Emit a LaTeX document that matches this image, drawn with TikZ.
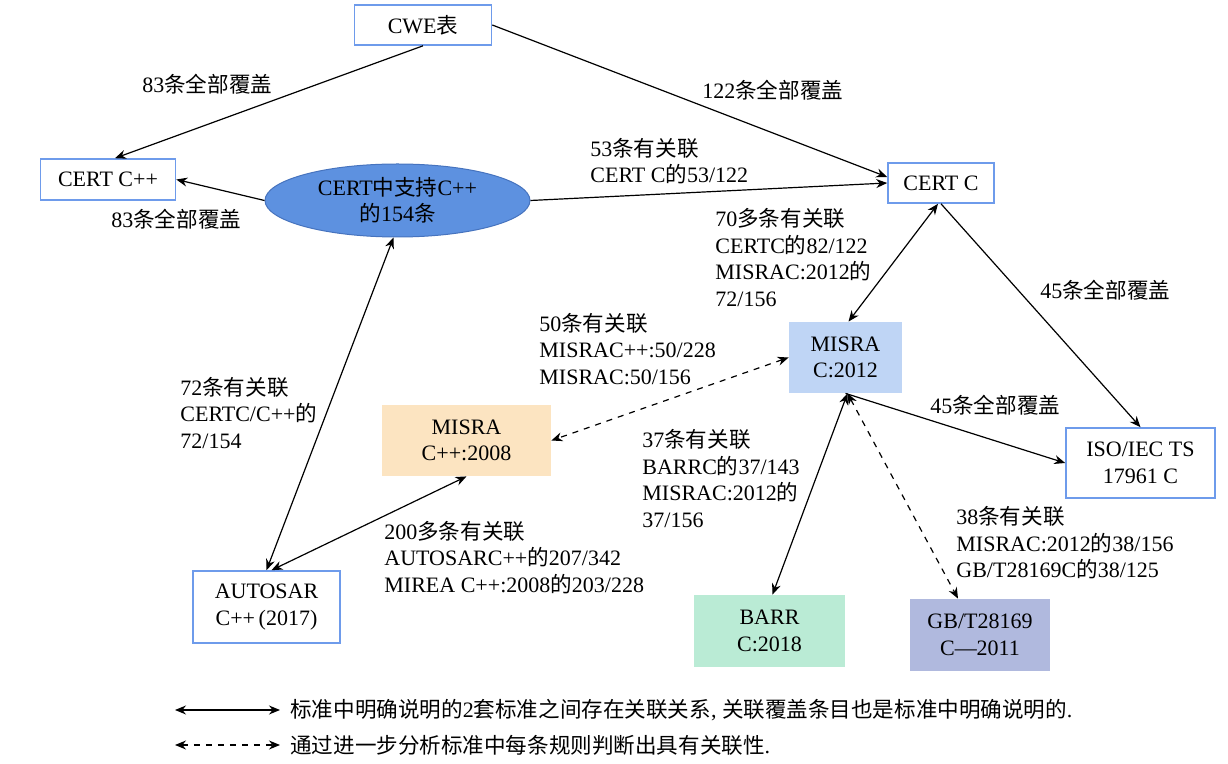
\documentclass[tikz,border=0pt]{standalone}
\usepackage{fontspec}
\setmainfont{Liberation Serif}
\newfontfamily\cjkfont{Noto Sans CJK SC}[Scale=0.98]
\newcommand\zh[1]{{\cjkfont #1}}
\usetikzlibrary{arrows.meta,shapes.geometric}
\definecolor{boxblue}{RGB}{110,155,235}
\definecolor{ellblue}{RGB}{93,145,224}
\definecolor{ellborder}{RGB}{70,115,190}
\definecolor{misrac}{RGB}{191,213,245}
\definecolor{misracpp}{RGB}{252,228,193}
\definecolor{barrc}{RGB}{186,235,213}
\definecolor{gbc}{RGB}{176,185,222}
\begin{document}
\begin{tikzpicture}[x=0.5pt,y=-0.5pt,
  every node/.style={font=\fontsize{11pt}{13.25pt}\selectfont},
  box/.style={draw=boxblue, line width=0.8pt, fill=white, align=center, inner sep=0pt},
  fbox/.style={align=center, inner sep=0pt},
  lbl/.style={anchor=west, align=left, inner sep=0pt},
  arr/.style={-{Stealth[length=5.5pt,width=4.5pt]}, line width=0.6pt},
  darr/.style={{Stealth[length=5.5pt,width=4.5pt]}-{Stealth[length=5.5pt,width=4.5pt]}, line width=0.6pt},
  dsharr/.style={darr, dashed}]
\path[use as bounding box] (0,0) rectangle (1228,764);

% nodes
\node[box, minimum width=68.5pt, minimum height=20pt] (cwe) at (423,25) {CWE\zh{表}};
\node[box, minimum width=67.5pt, minimum height=20.5pt] (certcpp) at (108,179.5) {CERT C++};
\node[ellipse, draw=ellborder, line width=0.5pt, fill=ellblue, minimum width=132.5pt, minimum height=36.5pt, inner sep=0pt, align=center] (ell) at (397.5,200.5) {CERT\zh{中支持}C++\\\zh{的}154\zh{条}};
\node[box, minimum width=53pt, minimum height=20pt] (certc) at (941,183) {CERT C};
\node[fbox, fill=misrac, minimum width=56.5pt, minimum height=35.5pt] (misra) at (845.5,357.5) {MISRA\\C:2012};
\node[box, minimum width=74.5pt, minimum height=35pt] (iso) at (1140.5,463) {ISO/IEC TS\\17961 C};
\node[fbox, fill=barrc, minimum width=75.5pt, minimum height=36pt] (barr) at (769.5,631) {BARR\\C:2018};
\node[fbox, fill=gbc, minimum width=70pt, minimum height=36pt] (gb) at (980,635) {GB/T28169\\C—2011};
\node[fbox, fill=misracpp, minimum width=84.5pt, minimum height=35.5pt] (misracpp) at (466.5,440.5) {MISRA\\C++:2008};
\node[box, minimum width=73.5pt, minimum height=36pt] (autosar) at (266.5,607) {AUTOSAR\\C++\,(2017)};

% connectors
\draw[arr] (cwe.south) -- ([xshift=3.5pt]certcpp.north);
\draw[arr] (cwe.east) -- ([yshift=3pt]certc.west);
\draw[arr] (ell.west) -- (certcpp.east);
\draw[arr] (ell.east) -- (certc.west);
\draw[darr] ([xshift=-1.5pt]certc.south) -- ([xshift=1.5pt]misra.north);
\draw[arr] (certc.south) -- (iso.north);
\draw[arr] (misra.south) -- (iso.west);
\draw[darr] ([xshift=1pt]misra.south) -- ([xshift=1.5pt]barr.north);
\draw[dsharr] ([xshift=1pt]misra.south) -- ([xshift=-11pt]gb.north);
\draw[dsharr] (misra.west) -- (misracpp.east);
\draw[darr] ([xshift=-2pt]ell.south) -- (autosar.north);
\draw[darr] (misracpp.south) -- ([xshift=2.5pt]autosar.north);

% labels
\node[lbl] (l1) at (142,84) {83\zh{条全部覆盖}};
\node[lbl] (l2) at (702,90) {122\zh{条全部覆盖}};
\node[lbl] (l3) at (590,161) {53\zh{条有关联}\\CERT C\zh{的}53/122};
\node[lbl] (l4) at (111,219) {83\zh{条全部覆盖}};
\node[lbl] (l5) at (715,257.5) {70\zh{多条有关联}\\CERTC\zh{的}82/122\\MISRAC:2012\zh{的}\\72/156};
\node[lbl] (l6) at (1040,290) {45\zh{条全部覆盖}};
\node[lbl] (l7) at (539,349) {50\zh{条有关联}\\MISRAC++:50/228\\MISRAC:50/156};
\node[lbl] (l8) at (180,413) {72\zh{条有关联}\\CERTC/C++\zh{的}\\72/154};
\node[lbl] (l9) at (642,478.5) {37\zh{条有关联}\\BARRC\zh{的}37/143\\MISRAC:2012\zh{的}\\37/156};
\node[lbl] (l10) at (930,405) {45\zh{条全部覆盖}};
\node[lbl] (l11) at (384,557.5) {200\zh{多条有关联}\\AUTOSARC++\zh{的}207/342\\MIREA C++:2008\zh{的}203/228};
\node[lbl] (l12) at (956,543) {38\zh{条有关联}\\MISRAC:2012\zh{的}38/156\\GB/T28169C\zh{的}38/125};

% legend
\coordinate (la1) at (175,710);
\coordinate (lb1) at (280,710);
\coordinate (la2) at (175,745);
\coordinate (lb2) at (280,745);
\draw[darr] (la1) -- (lb1);
\draw[dsharr] (la2) -- (lb2);
\node[lbl] (lt1) at (290,710) {\zh{标准中明确说明的}2\zh{套标准之间存在关联关系}, \zh{关联覆盖条目也是标准中明确说明的}.};
\node[lbl] (lt2) at (290,745) {\zh{通过进一步分析标准中每条规则判断出具有关联性}.};
\end{tikzpicture}
\end{document}
